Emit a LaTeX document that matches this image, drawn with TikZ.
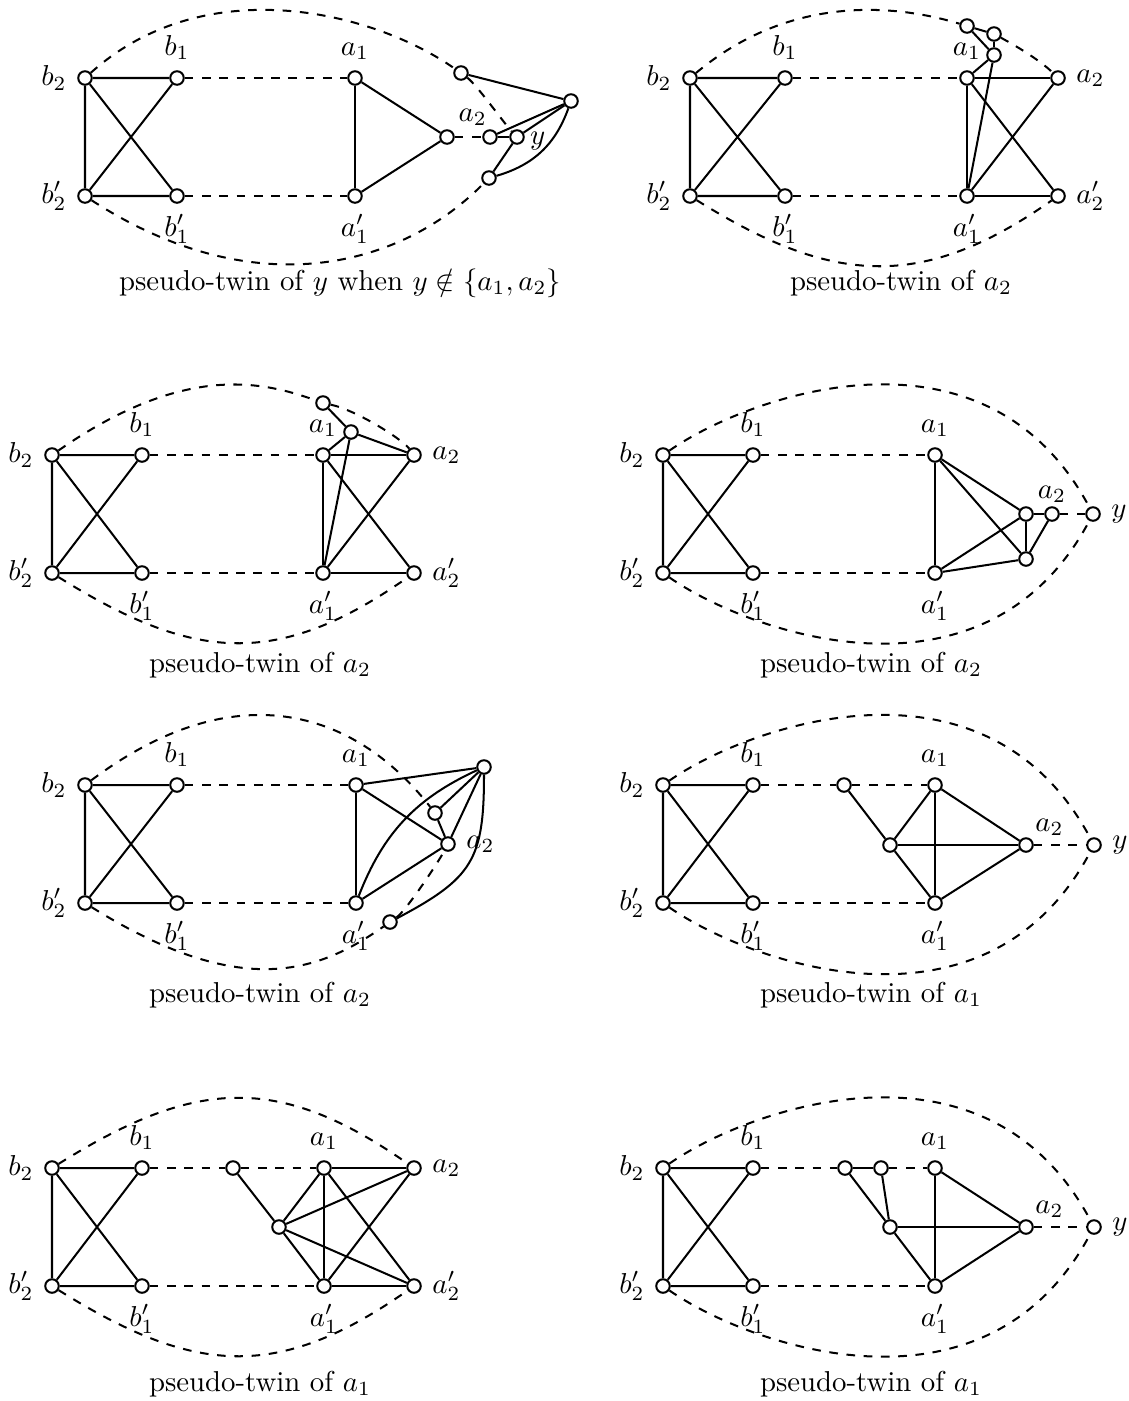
\documentclass[tikz,border=0pt]{standalone}
\usepackage{amsmath,amssymb}
\usepackage{tikz}

\tikzset{
  vtx/.style={circle, draw, fill=white, inner sep=0pt, minimum size=4.7pt},
}

% left half, the same in every picture: b2, b1, b2', b1'
\newcommand{\leftblock}[3]{%
  \node[vtx, label=left:$b_2$] (b2) at (#1,#2) {};
  \node[vtx, label=above:$b_1$] (b1) at (#1+#3,#2) {};
  \node[vtx, label=left:$b_2'$] (b2p) at (#1,#2-118) {};
  \node[vtx, label=below:$b_1'$] (b1p) at (#1+#3,#2-118) {};
  \draw (b2) -- (b1) (b2) -- (b2p) (b2p) -- (b1p) (b2) -- (b1p) (b1) -- (b2p);
}

\begin{document}
\begin{tikzpicture}[x=0.0122cm, y=0.0122cm, line width=0.7pt]
\useasboundingbox (0,0) rectangle (1129,-1401);

% Top left: pseudo-twin of y
\leftblock{85}{-78}{92}
\node[vtx, label=above:$a_1$] (a1) at (355,-78) {};
\node[vtx, label=below:$a_1'$] (a1p) at (355,-196) {};
\node[vtx] (c) at (447,-137) {};
\node[vtx, label={[inner sep=1pt, xshift=-6pt]above:$a_2$}] (a2) at (490,-137) {};
\node[vtx, label={[inner sep=1.5pt, yshift=-1.5pt]right:$y$}] (y) at (517,-137) {};
\node[vtx] (t) at (461,-73) {};
\node[vtx] (r) at (571,-101) {};
\node[vtx] (s) at (489,-178) {};
\draw[dashed] (b1) -- (a1) (b1p) -- (a1p) (c) -- (a2);
\foreach \u/\v in {a1/a1p, a1/c, a1p/c, a2/y, t/r, a2/r, y/r, s/y}
  \draw (\u) -- (\v);
\draw (s) to[bend right=27] (r);
\draw[dashed] (b2) .. controls +(119,107) and +(-90,63) .. (t)
  .. controls +(16,-12) and +(-14,15) .. (y);
\draw[dashed] (b2p) .. controls +(166,-107.7) and +(-91,-92.3) .. (s);
\node at (340,-283) {pseudo-twin of $y$ when $y \notin \{a_1, a_2\}$};

% Top right: pseudo-twin of a2
\leftblock{690}{-78}{95}
\node[vtx, label=above:$a_1$] (a1) at (967,-78) {};
\node[vtx, label=below:$a_1'$] (a1p) at (967,-196) {};
\node[vtx, label=right:$a_2$] (a2) at (1058,-78) {};
\node[vtx, label=right:$a_2'$] (a2p) at (1058,-196) {};
\node[vtx] (p) at (967,-26) {};
\node[vtx] (q) at (994,-34) {};
\node[vtx] (u) at (994,-55) {};
\draw[dashed] (b1) -- (a1) (b1p) -- (a1p);
\foreach \u/\v in {a1/a2, a1/a1p, a1/a2p, a1p/a2, a1p/a2p, a1p/u, a1/u, u/q, p/u, p/q}
  \draw (\u) -- (\v);
\draw[dashed] (b2) .. controls +(92,77) and +(-86,26) .. (p);
\draw[dashed] (q) .. controls +(26,-14) and +(-16,16) .. (a2);
\draw[dashed] (b2p) .. controls +(141.6,-88.5) and +(-136.8,-95.9) .. (a2p);
\node at (901,-283) {pseudo-twin of $a_2$};

% Second row left
\leftblock{52}{-455}{90}
\node[vtx, label=above:$a_1$] (a1) at (323,-455) {};
\node[vtx, label=below:$a_1'$] (a1p) at (323,-573) {};
\node[vtx, label=right:$a_2$] (a2) at (414,-455) {};
\node[vtx, label=right:$a_2'$] (a2p) at (414,-573) {};
\node[vtx] (p) at (323,-403) {};
\node[vtx] (u) at (351,-432) {};
\draw[dashed] (b1) -- (a1) (b1p) -- (a1p);
\foreach \u/\v in {a1/a2, a1/a1p, a1/a2p, a1p/a2, a1p/a2p, p/u, u/a1, u/a2, u/a1p}
  \draw (\u) -- (\v);
\draw[dashed] (b2) .. controls +(131,91.2) and +(-62,22.4) .. (p)
  .. controls +(33,-7) and +(-12,16) .. (a2);
\draw[dashed] (b2p) .. controls +(141.6,-88.5) and +(-136.8,-95.9) .. (a2p);
\node at (260,-665) {pseudo-twin of $a_2$};

% Second row right
\leftblock{663}{-455}{90}
\node[vtx, label=above:$a_1$] (a1) at (935,-455) {};
\node[vtx, label=below:$a_1'$] (a1p) at (935,-573) {};
\node[vtx] (v) at (1026,-514) {};
\node[vtx] (w) at (1026,-559) {};
\node[vtx, label={[inner sep=1pt]above:$a_2$}] (a2) at (1052,-514) {};
\node[vtx, label=right:$y$] (y) at (1093,-514) {};
\draw[dashed] (b1) -- (a1) (b1p) -- (a1p) (a2) -- (y);
\foreach \u/\v in {a1/a1p, a1/v, a1/w, a1p/v, a1p/w, v/w, v/a2, a2/w}
  \draw (\u) -- (\v);
\draw[dashed] (b2) .. controls +(86.8,60.3) and +(-108,202.4) .. (y);
\draw[dashed] (b2p) .. controls +(86.8,-60.3) and +(-108,-202.4) .. (y);
\node at (871,-665) {pseudo-twin of $a_2$};

% Third row left
\leftblock{85}{-785}{92}
\node[vtx, label=above:$a_1$] (a1) at (356,-785) {};
\node[vtx, label=below:$a_1'$] (a1p) at (356,-903) {};
\node[vtx] (z) at (484,-767) {};
\node[vtx] (m) at (435,-813) {};
\node[vtx, label=right:$a_2$] (a2) at (448,-844) {};
\node[vtx] (n) at (390,-922) {};
\draw[dashed] (b1) -- (a1) (b1p) -- (a1p);
\foreach \u/\v in {a1/a1p, a1/z, a1/a2, a1p/a2, z/m, m/a2, z/a2}
  \draw (\u) -- (\v);
\draw (a1p) to[bend left=22] (z);
\draw (n) to[out=28, in=-90, looseness=1.3] (z);
\draw[dashed] (b2) .. controls +(148.6,111.4) and +(-81.8,104.6) .. (m);
\draw[dashed] (b2p) .. controls +(157.5,-98.4) and +(-70.8,-49.6) .. (n)
  .. controls +(16.4,11.5) and +(-9.4,-17.6) .. (a2);
\node at (260,-995) {pseudo-twin of $a_2$};

% Third row right
\leftblock{663}{-785}{90}
\node[vtx] (k) at (844,-785) {};
\node[vtx, label=above:$a_1$] (a1) at (935,-785) {};
\node[vtx, label=below:$a_1'$] (a1p) at (935,-903) {};
\node[vtx] (h) at (890,-845) {};
\node[vtx, label={[inner sep=1pt]above right:$a_2$}] (a2) at (1026,-845) {};
\node[vtx, label=right:$y$] (y) at (1094,-845) {};
\draw[dashed] (b1) -- (k) (k) -- (a1) (b1p) -- (a1p) (a2) -- (y);
\foreach \u/\v in {k/h, h/a1, h/a1p, h/a2, a1/a1p, a1/a2, a1p/a2}
  \draw (\u) -- (\v);
\draw[dashed] (b2) .. controls +(86.8,60.3) and +(-108,202.4) .. (y);
\draw[dashed] (b2p) .. controls +(86.8,-60.3) and +(-108,-202.4) .. (y);
\node at (871,-995) {pseudo-twin of $a_1$};

% Bottom left
\leftblock{52}{-1168}{90}
\node[vtx] (k) at (233,-1168) {};
\node[vtx, label=above:$a_1$] (a1) at (324,-1168) {};
\node[vtx, label=below:$a_1'$] (a1p) at (324,-1286) {};
\node[vtx, label=right:$a_2$] (a2) at (414,-1168) {};
\node[vtx, label=right:$a_2'$] (a2p) at (414,-1286) {};
\node[vtx] (h) at (279,-1227) {};
\draw[dashed] (b1) -- (k) (k) -- (a1) (b1p) -- (a1p);
\foreach \u/\v in {k/h, h/a1, h/a2, h/a1p, h/a2p, a1/a2, a1/a1p, a1/a2p, a1p/a2, a1p/a2p}
  \draw (\u) -- (\v);
\draw[dashed] (b2) .. controls +(141.6,88.5) and +(-136.8,95.9) .. (a2);
\draw[dashed] (b2p) .. controls +(141.6,-88.5) and +(-136.8,-95.9) .. (a2p);
\node at (260,-1384) {pseudo-twin of $a_1$};

% Bottom right
\leftblock{663}{-1168}{90}
\node[vtx] (k) at (845,-1168) {};
\node[vtx] (k2) at (881,-1168) {};
\node[vtx, label=above:$a_1$] (a1) at (935,-1168) {};
\node[vtx, label=below:$a_1'$] (a1p) at (935,-1286) {};
\node[vtx] (h) at (890,-1227) {};
\node[vtx, label={[inner sep=1pt]above right:$a_2$}] (a2) at (1026,-1227) {};
\node[vtx, label=right:$y$] (y) at (1094,-1227) {};
\draw[dashed] (b1) -- (k) (k2) -- (a1) (b1p) -- (a1p) (a2) -- (y);
\foreach \u/\v in {k/k2, k/h, k2/h, h/a2, h/a1p, a1/a1p, a1/a2, a1p/a2}
  \draw (\u) -- (\v);
\draw[dashed] (b2) .. controls +(86.8,60.3) and +(-108,202.4) .. (y);
\draw[dashed] (b2p) .. controls +(86.8,-60.3) and +(-108,-202.4) .. (y);
\node at (871,-1384) {pseudo-twin of $a_1$};

\end{tikzpicture}
\end{document}
